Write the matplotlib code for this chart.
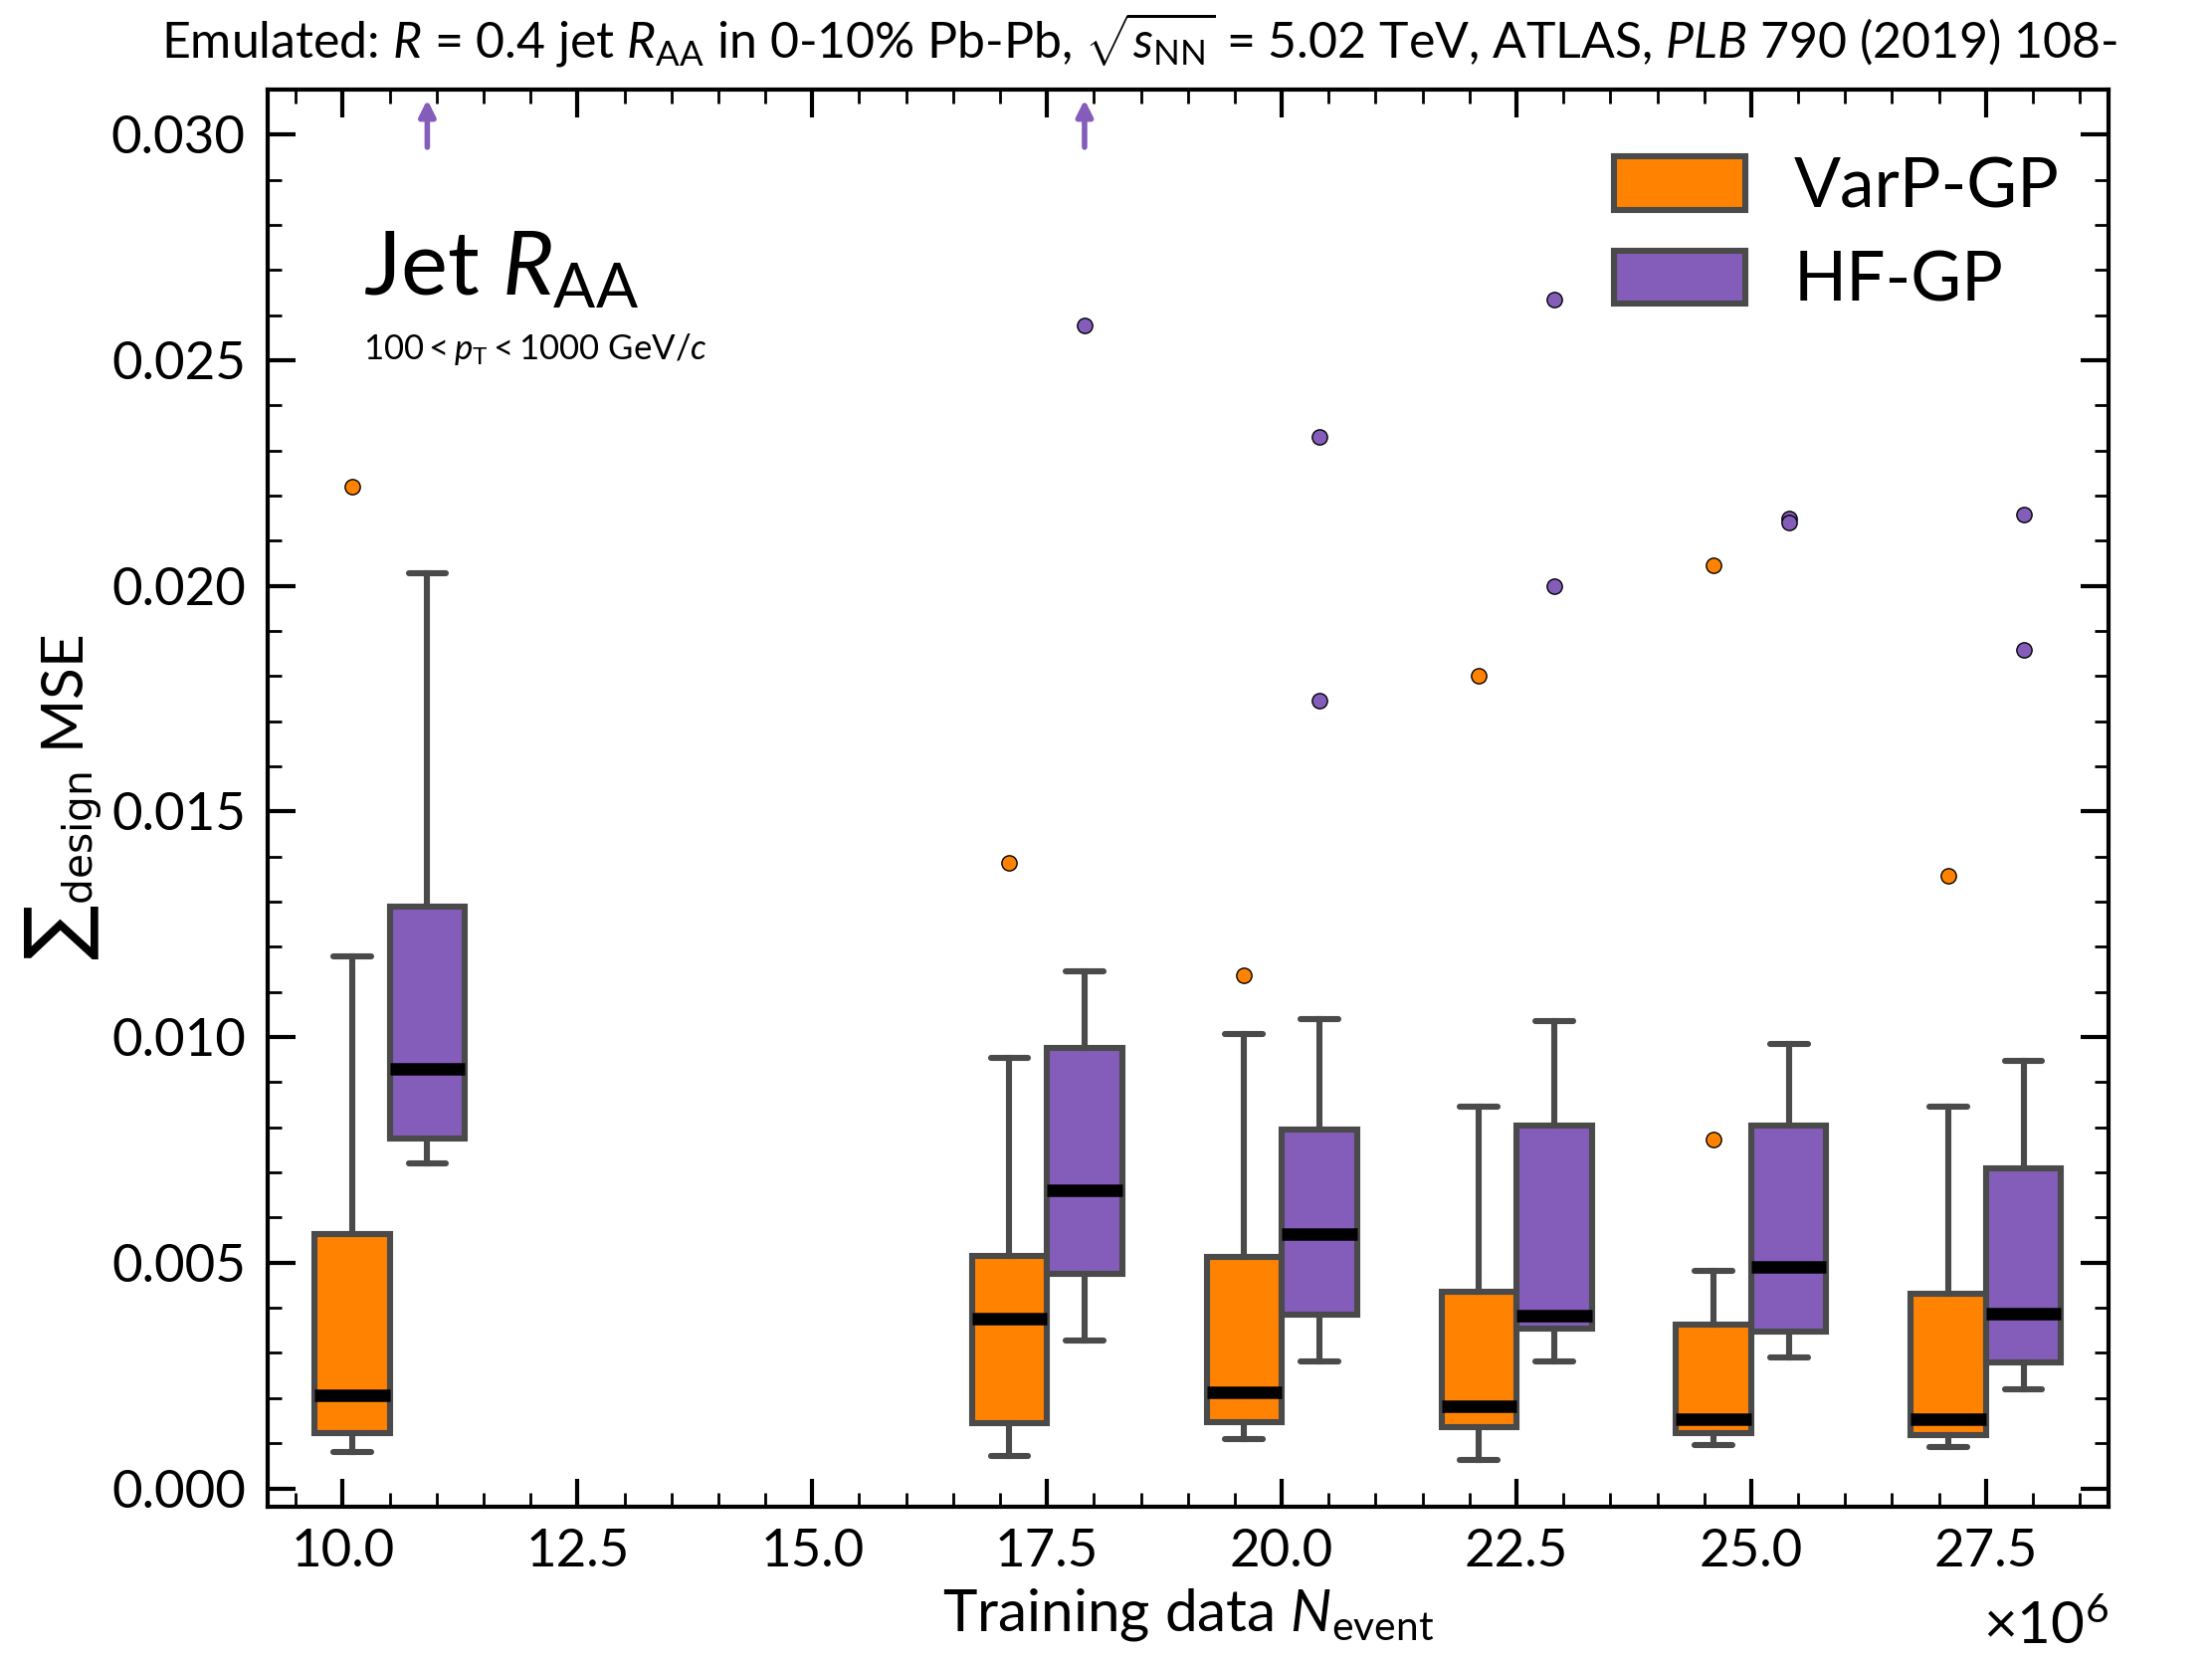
import matplotlib
matplotlib.use("Agg")
import matplotlib.pyplot as plt
from matplotlib.patches import Patch

plt.rcParams['font.family'] = ['Lato', 'DejaVu Sans']
plt.rcParams['mathtext.fontset'] = 'custom'
plt.rcParams['mathtext.rm'] = 'Lato'
plt.rcParams['mathtext.it'] = 'Lato:italic'
plt.rcParams['mathtext.bf'] = 'Lato:bold'

# box statistics (x in units of 1e6 events)
varp_pos = [10.1, 17.1, 19.6, 22.1, 24.6, 27.1]
varp_lo = [0.00081, 0.00072, 0.00110, 0.00063, 0.00097, 0.00091]
varp_q1 = [0.00122, 0.00144, 0.00147, 0.00135, 0.00122, 0.00119]
varp_med = [0.00206, 0.00375, 0.00213, 0.00181, 0.00153, 0.00153]
varp_q3 = [0.00563, 0.00516, 0.00513, 0.00435, 0.00363, 0.00432]
varp_hi = [0.01179, 0.00954, 0.01007, 0.00845, 0.00482, 0.00845]
varp_out = [[0.0222], [0.01386], [0.01136], [0.01802], [0.00773, 0.02046], [0.01358]]

hf_pos = [10.9, 17.9, 20.4, 22.9, 25.4, 27.9]
hf_lo = [0.00720, 0.00328, 0.00282, 0.00282, 0.00291, 0.00219]
hf_q1 = [0.00776, 0.00475, 0.00385, 0.00353, 0.00347, 0.00278]
hf_med = [0.00929, 0.00660, 0.00563, 0.00382, 0.00491, 0.00388]
hf_q3 = [0.01289, 0.00976, 0.00795, 0.00804, 0.00804, 0.00710]
hf_hi = [0.02027, 0.01145, 0.01039, 0.01035, 0.00985, 0.00948]
hf_out = [[], [0.02578], [0.0233, 0.01746], [0.02634, 0.0200], [0.0215, 0.0214], [0.02158, 0.01858]]
hf_offscale = [10.9, 17.9]  # outliers above the plotted range

orange = '#ff8200'
purple = '#845cba'
edge = '#4a4a4a'


def stats(lo, q1, med, q3, hi, out):
    return [dict(whislo=a, q1=b, med=c, q3=d, whishi=e, fliers=f)
            for a, b, c, d, e, f in zip(lo, q1, med, q3, hi, out)]


fig = plt.figure(figsize=(11.115, 8.335), dpi=200)
ax = fig.add_axes([0.121, 0.092, 0.832, 0.854])

for st, pos, col in [(stats(varp_lo, varp_q1, varp_med, varp_q3, varp_hi, varp_out), varp_pos, orange),
                     (stats(hf_lo, hf_q1, hf_med, hf_q3, hf_hi, hf_out), hf_pos, purple)]:
    ax.bxp(st, positions=pos, widths=0.8, patch_artist=True, manage_ticks=False,
           boxprops=dict(facecolor=col, edgecolor=edge, linewidth=2.2),
           whiskerprops=dict(color=edge, linewidth=2.2),
           capprops=dict(color=edge, linewidth=2.2, solid_capstyle='round'),
           medianprops=dict(color='black', linewidth=4.5),
           flierprops=dict(marker='o', markerfacecolor=col, markeredgecolor='black',
                           markeredgewidth=0.5, markersize=5.5))

for x in hf_offscale:
    ax.annotate('', xy=(x, 0.0309), xytext=(x, 0.0296),
                arrowprops=dict(arrowstyle='-|>', color=purple, lw=2, mutation_scale=12))

ax.set_xlim(9.2, 28.8)
ax.set_ylim(-0.0004, 0.031)
ax.set_xticks([10.0, 12.5, 15.0, 17.5, 20.0, 22.5, 25.0, 27.5])
ax.set_xticklabels(['10.0', '12.5', '15.0', '17.5', '20.0', '22.5', '25.0', '27.5'])
ax.set_xticks([x * 0.5 for x in range(19, 58)], minor=True)
ax.set_yticks([0.0, 0.005, 0.010, 0.015, 0.020, 0.025, 0.030])
ax.set_yticklabels(['0.000', '0.005', '0.010', '0.015', '0.020', '0.025', '0.030'])
ax.set_yticks([i * 0.001 for i in range(0, 32)], minor=True)
ax.tick_params(which='both', direction='in', top=True, right=True, labelsize=19, pad=8)
ax.tick_params(which='major', length=10, width=1.5)
ax.tick_params(which='minor', length=5, width=1.0)
for s in ax.spines.values():
    s.set_linewidth(1.5)

ax.set_xlabel(r'Training data $N_\mathrm{event}$', fontsize=21, labelpad=4)
ax.set_ylabel(r'${\sum}_\mathrm{design}$ MSE', fontsize=21, math_fontfamily='dejavusans')
ax.yaxis.set_label_coords(-0.088, 0.5)
fig.text(0.953, 0.003, r'$\times10^6$', fontsize=21, ha='right', va='bottom')

ax.text(0.052, 0.855, r'Jet $R_\mathrm{AA}$', transform=ax.transAxes, fontsize=32)
ax.text(0.052, 0.81, r'$100 < p_\mathrm{T} < 1000$ GeV$/c$', transform=ax.transAxes, fontsize=12.5)

fig.text(0.073, 0.965,
         r'Emulated: $R$ = 0.4 jet $R_\mathrm{AA}$ in 0-10% Pb-Pb, $\sqrt{s_\mathrm{NN}}$ = 5.02 TeV, ATLAS, $PLB$ $790$ $(2019)$ $108$-',
         fontsize=18, ha='left', va='baseline')

handles = [Patch(facecolor=orange, edgecolor=edge, linewidth=2.2, label='VarP-GP'),
           Patch(facecolor=purple, edgecolor=edge, linewidth=2.2, label='HF-GP')]
ax.legend(handles=handles, loc='upper right', bbox_to_anchor=(1.0, 0.987), fontsize=25,
          frameon=False, handlelength=1.9, handleheight=0.8, handletextpad=0.7,
          labelspacing=0.45, borderaxespad=0.3)

fig.savefig('out.png', dpi=200)
